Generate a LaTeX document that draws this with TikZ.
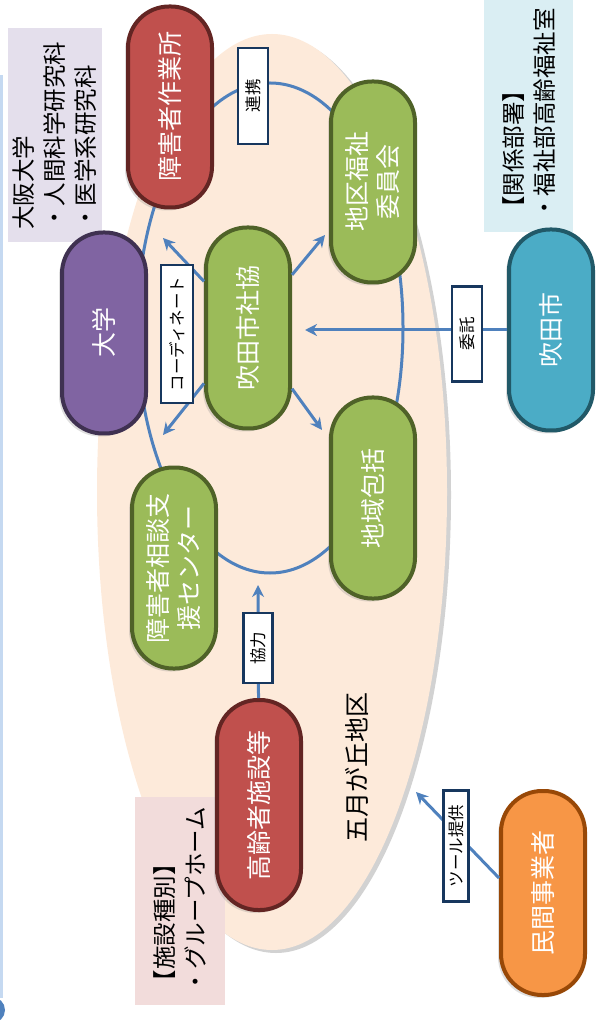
\documentclass[tikz,border=0pt]{standalone}
\usepackage{fontspec}
\setmainfont{Noto Sans CJK JP}
\usepackage{tikz}
\usetikzlibrary{arrows.meta, shadows, calc}
\definecolor{linkblue}{RGB}{79,129,189}
\definecolor{area}{RGB}{253,234,218}
\definecolor{grfill}{RGB}{155,187,89}
\definecolor{grline}{RGB}{79,98,40}
\definecolor{rdfill}{RGB}{192,80,77}
\definecolor{rdline}{RGB}{99,37,35}
\definecolor{ppfill}{RGB}{128,100,162}
\definecolor{ppline}{RGB}{63,49,81}
\definecolor{bufill}{RGB}{75,172,198}
\definecolor{buline}{RGB}{33,89,104}
\definecolor{orfill}{RGB}{247,150,70}
\definecolor{orline}{RGB}{152,72,7}
\definecolor{tagline}{RGB}{23,55,94}
\definecolor{memoA}{RGB}{228,223,236}
\definecolor{memoB}{RGB}{218,238,243}
\definecolor{memoC}{RGB}{242,220,219}
\definecolor{edge}{RGB}{197,217,241}
\tikzset{
  organ/.style={draw, line width=2pt, rounded corners=20.5pt, rotate=90,
    minimum width=100.5pt, minimum height=42pt, inner sep=1pt, text=white,
    align=center, font=\fontsize{12.5}{15.5}\selectfont,
    drop shadow={shadow xshift=-1.5pt, shadow yshift=-1.5pt, opacity=0.25}},
  grorgan/.style={organ, fill=grfill, draw=grline},
  rdorgan/.style={organ, fill=rdfill, draw=rdline},
  pporgan/.style={organ, fill=ppfill, draw=ppline},
  buorgan/.style={organ, fill=bufill, draw=buline},
  ororgan/.style={organ, fill=orfill, draw=orline},
  tag/.style={draw=tagline, line width=1.4pt, fill=white, rotate=90,
    inner sep=1pt, minimum height=15pt, font=\fontsize{8.25}{10}\selectfont},
  memo/.style={rotate=90, align=left, inner xsep=6pt, inner ysep=0pt,
    font=\fontsize{11.75}{15.5}\selectfont},
  link/.style={draw=linkblue, line width=1.5pt},
  arrow/.style={link, -{Stealth[length=6pt, width=6pt]}}
}
\begin{document}
\begin{tikzpicture}[x=0.5pt, y=-0.5pt]
  \useasboundingbox (0,0) rectangle (596,1020);
  \clip (0,0) rectangle (596,1020);
  % 左端
  \fill[edge] (0,75) rectangle (2.5,998);
  \fill[linkblue] (-8,1010) circle (13);
  % 地区
  \fill[gray!35] (276,495) ellipse [x radius=175, y radius=458];
  \fill[area] (272,492) ellipse [x radius=175, y radius=458];
  \draw[link] (270,328) ellipse [x radius=133, y radius=245];
  \node[rotate=90, font=\fontsize{12.5}{15}\selectfont] (gogatsu) at (357,767) {五月が丘地区};

  % メモ
  \node[memo, fill=memoA, text width=95pt, minimum height=47pt] (handai) at (55,135)
    {大阪大学\\・人間科学研究科\\・医学系研究科};
  \node[memo, fill=memoB, text width=108.5pt, minimum height=44.5pt] (kankei) at (528.5,111.5)
    {【関係部署】\\・福祉部高齢福祉室};
  \node[memo, fill=memoC, text width=92pt, minimum height=45pt] (shubetsu) at (180,901)
    {【施設種別】\\・グループホーム};

  % 機関
  \node[rdorgan] (sagyo) at (170,107) {障害者作業所};
  \node[pporgan] (daigaku) at (104,333) {大学};
  \node[grorgan] (shakyo) at (248,328) {吹田市社協};
  \node[grorgan] (chiku) at (373,182) {地区福祉\\委員会};
  \node[grorgan] (houkatsu) at (373,498) {地域包括};
  \node[grorgan] (soudan) at (174,568) {障害者相談支\\援センター};
  \node[rdorgan, minimum width=105pt] (koureisha) at (259,805) {高齢者施設等};
  \node[buorgan] (suita) at (551,330) {吹田市};
  \node[ororgan, minimum width=102pt] (minkan) at (543,893) {民間事業者};

  % 矢印
  \coordinate (ul) at (163,238);
  \coordinate (ll) at (163,435);
  \coordinate (ur) at (325,235);
  \coordinate (lr) at (322,430);
  \coordinate (itakutip) at (305,330);
  \coordinate (kyoutip) at (258,585);
  \coordinate (tooltip) at (416,792);
  \draw[arrow] (shakyo) -- (ul);
  \draw[arrow] (shakyo) -- (ll);
  \draw[arrow] (shakyo) -- (ur);
  \draw[arrow] (shakyo) -- (lr);
  \draw[arrow] (suita) -- (itakutip);
  \draw[arrow] (koureisha) -- (kyoutip);
  \draw[arrow] ($(minkan.north)+(0,-15)$) -- (tooltip);

  % ラベル
  \node[tag, minimum width=48pt] (renkei) at (253,96) {連携};
  \node[tag, minimum width=69pt, minimum height=16pt] (coord) at (177,334) {コーディネート};
  \node[tag, minimum width=47.5pt] (itaku) at (467,334) {委託};
  \node[tag, minimum width=35pt, minimum height=14.5pt] (kyouryoku) at (258,648) {協力};
  \node[tag, minimum width=55.5pt, minimum height=12.5pt] (tool) at (456,846) {ツール提供};
\end{tikzpicture}
\end{document}
